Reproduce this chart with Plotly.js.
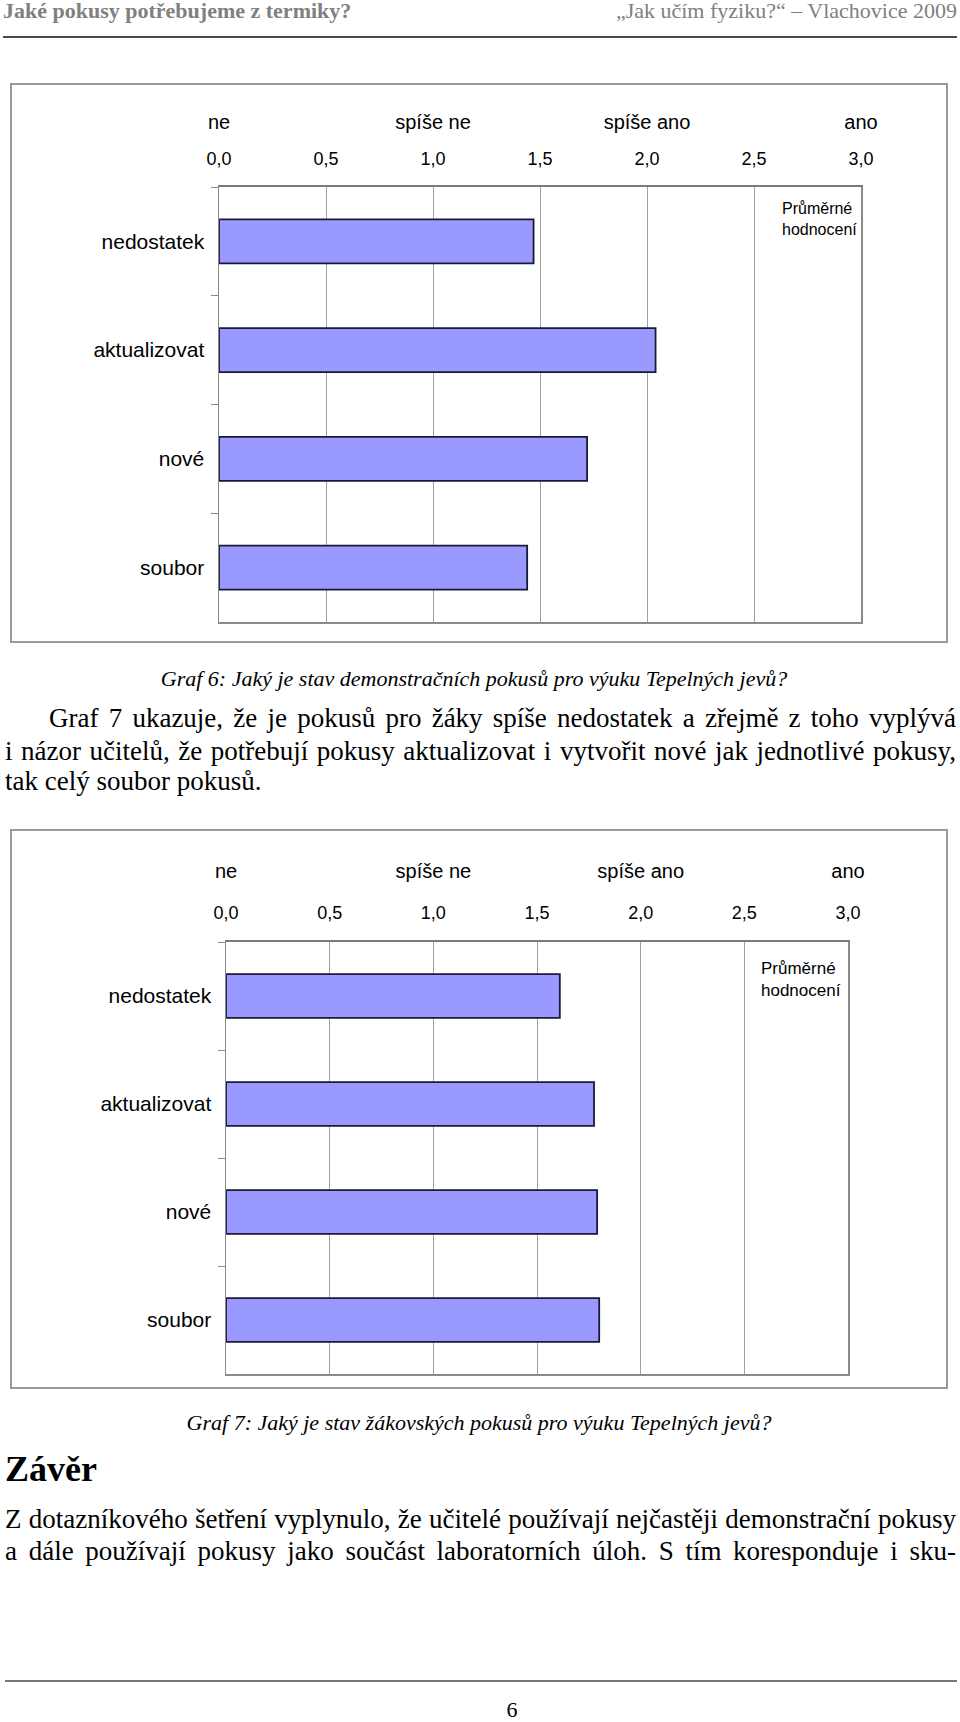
<!DOCTYPE html>
<html>
<head>
<meta charset="utf-8">
<script src="https://cdn.plot.ly/plotly-3.0.1.min.js"></script>
<style>
  html, body { margin:0; padding:0; background:#fff; }
  body { width:960px; height:1722px; position:relative; overflow:hidden; font-family:"Liberation Serif","Times New Roman",serif; color:#000; }
  .t { position:absolute; white-space:nowrap; line-height:1; }
  .just { text-align:justify; text-align-last:justify; }
  .rule { position:absolute; }
  .chart { position:absolute; outline:2px solid #9a9a9a; outline-offset:-2px; }
</style>
</head>
<body>
<div class="t" style="left:3px; top:0px; font-size:22px; font-weight:bold; color:#808080;">Jaké pokusy potřebujeme z termiky?</div>
<div class="t" style="right:3px; top:0px; font-size:22px; color:#808080;">„Jak učím fyziku?“ – Vlachovice 2009</div>
<div class="rule" style="left:3px; width:954px; top:36px; height:2px; background:#4a4a4a;"></div>

<div id="chart1" class="chart" style="left:10px; top:83px; width:938px; height:560px;"></div>

<div class="t" style="left:0; width:948px; text-align:center; top:668px; font-size:22px; font-style:italic;">Graf 6: Jaký je stav demonstračních pokusů pro výuku Tepelných jevů?</div>

<div class="t just" style="left:49px; width:907px; top:705px; font-size:27px;">Graf 7 ukazuje, že je pokusů pro žáky spíše nedostatek a zřejmě z toho vyplývá</div>
<div class="t just" style="left:5px; width:951px; top:738px; font-size:27px;">i názor učitelů, že potřebují pokusy aktualizovat i vytvořit nové jak jednotlivé pokusy,</div>
<div class="t" style="left:5px; top:768px; font-size:27px;">tak celý soubor pokusů.</div>

<div id="chart2" class="chart" style="left:10px; top:829px; width:938px; height:560px;"></div>

<div class="t" style="left:0; width:958px; text-align:center; top:1412px; font-size:22px; font-style:italic;">Graf 7: Jaký je stav žákovských pokusů pro výuku Tepelných jevů?</div>

<div class="t" style="left:5px; top:1451px; font-size:36px; font-weight:bold;">Závěr</div>

<div class="t just" style="left:5px; width:951px; top:1506px; font-size:27px;">Z dotazníkového šetření vyplynulo, že učitelé používají nejčastěji demonstrační pokusy</div>
<div class="t just" style="left:5px; width:951px; top:1538px; font-size:27px;">a dále používají pokusy jako součást laboratorních úloh. S tím koresponduje i sku-</div>

<div class="rule" style="left:5px; width:952px; top:1680px; height:2px; background:#777;"></div>
<div class="t" style="left:0; width:1024px; text-align:center; top:1699px; font-size:22px;">6</div>

<script>
// ---- data ----
const categories = ['nedostatek', 'aktualizovat', 'nové', 'soubor'];
const graf6Values = [1.47, 2.04, 1.72, 1.44];
const graf7Values = [1.61, 1.775, 1.79, 1.80];
const scaleTickVals = [0, 0.5, 1, 1.5, 2, 2.5, 3];
const scaleTickText = ['0,0', '0,5', '1,0', '1,5', '2,0', '2,5', '3,0'];
const ratingVals = [0, 1, 2, 3];
const ratingText = ['ne', 'spíše ne', 'spíše ano', 'ano'];
const noteText = 'Průměrné<br>hodnocení';

function drawChart(id, values, g) {
  const bar = {
    type: 'bar', orientation: 'h', x: values, y: categories,
    xaxis: 'x', yaxis: 'y', hoverinfo: 'skip',
    marker: { color: '#9999FF', line: { color: '#1a1a38', width: 1.8 } }
  };
  const ghost2 = { type: 'scatter', mode: 'markers', x: values, y: categories, xaxis: 'x2', yaxis: 'y',
    marker: { opacity: 0, size: 1 }, hoverinfo: 'skip', showlegend: false };
  const ghost3 = { type: 'scatter', mode: 'markers', x: values, y: categories, xaxis: 'x3', yaxis: 'y',
    marker: { opacity: 0, size: 1 }, hoverinfo: 'skip', showlegend: false };
  const layout = {
    width: 938, height: 560,
    margin: { l: g.l, r: g.r, t: g.t, b: g.b, pad: 0 },
    paper_bgcolor: 'rgba(0,0,0,0)', plot_bgcolor: '#ffffff',
    showlegend: false, bargap: 0.595, separators: ',.',
    font: { family: '"Liberation Sans", Arial, sans-serif', color: '#000' },
    xaxis: { range: [0, 3], tickvals: scaleTickVals, showticklabels: false, ticks: '',
      showgrid: true, gridcolor: '#a0a0a0', gridwidth: 1, zeroline: false,
      showline: true, linecolor: '#8a8a8a', linewidth: 1.5 },
    xaxis2: { overlaying: 'x', side: 'top', anchor: 'y', range: [0, 3],
      tickvals: scaleTickVals, ticktext: scaleTickText, showgrid: false, zeroline: false,
      showline: true, linecolor: '#7a7a7a', linewidth: 2,
      ticks: 'outside', ticklen: g.numLen, tickcolor: 'rgba(0,0,0,0)', tickfont: { size: 18 } },
    xaxis3: { overlaying: 'x', side: 'top', anchor: 'y', range: [0, 3],
      tickvals: ratingVals, ticktext: ratingText, showgrid: false, zeroline: false, showline: false,
      ticks: 'outside', ticklen: g.wordLen, tickcolor: 'rgba(0,0,0,0)', tickfont: { size: 20 } },
    yaxis: { type: 'category', categoryorder: 'array', categoryarray: categories, autorange: 'reversed',
      showgrid: false, zeroline: false, showline: true, mirror: true, linecolor: '#8a8a8a', linewidth: 1.5,
      ticks: 'outside', tickson: 'boundaries', ticklen: 7, tickcolor: '#8a8a8a',
      tickfont: { size: 21 }, ticklabelstandoff: 9 },
    annotations: [{
      xref: 'paper', yref: 'paper', x: 1, y: g.noteY, xanchor: 'right', yanchor: 'middle',
      xshift: g.noteShift, text: noteText, showarrow: false, align: 'left',
      font: { size: g.noteSize, color: '#000' }
    }]
  };
  return Plotly.newPlot(id, [bar, ghost2, ghost3], layout, { staticPlot: true, displayModeBar: false });
}

drawChart('chart1', graf6Values, { l: 209, r: 87, t: 104, b: 21, numLen: 13, wordLen: 49, noteY: 0.926, noteShift: -2, noteSize: 16 });
drawChart('chart2', graf7Values, { l: 216, r: 100, t: 113, b: 15, numLen: 14, wordLen: 55, noteY: 0.913, noteShift: -5, noteSize: 17 });
</script>
</body>
</html>
